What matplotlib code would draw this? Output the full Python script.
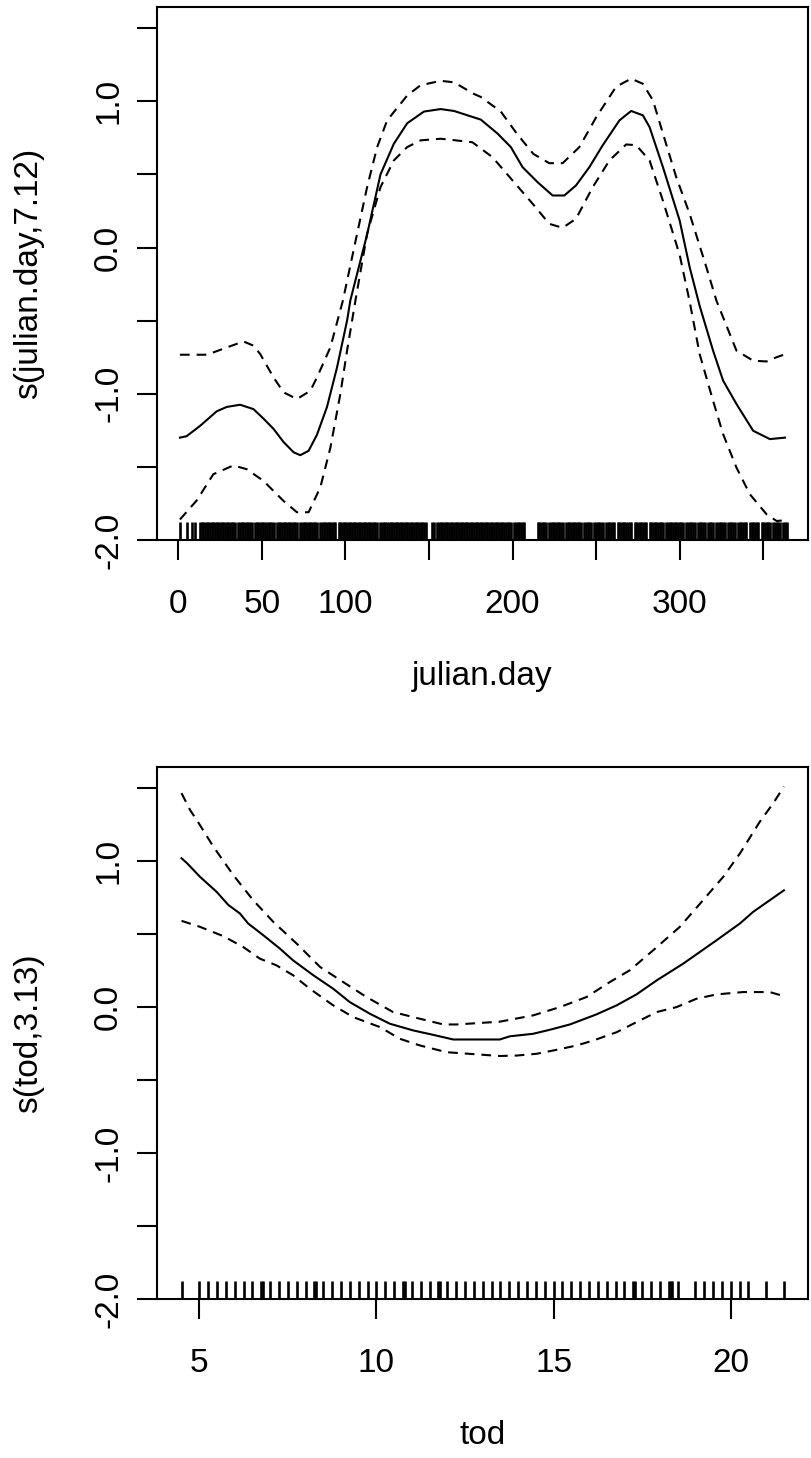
import matplotlib
matplotlib.use("Agg")
import matplotlib.pyplot as plt

plt.rcParams['font.family'] = ['Liberation Sans', 'DejaVu Sans']
plt.rcParams['lines.scale_dashes'] = False

# ---------------- data: julian.day smooth ----------------
jd_fit_x = [1, 5, 13, 23, 29, 37, 45, 51, 57, 63, 69, 73, 78, 83, 89, 95, 101, 103,
            113, 121, 129, 137, 147, 157, 165, 181, 191, 199, 206, 215, 224, 231,
            238, 246, 254, 264, 271, 278, 282, 290, 300, 306, 312, 320, 326, 334,
            344, 354, 363]
jd_fit_y = [-1.30, -1.29, -1.22, -1.12, -1.09, -1.075, -1.105, -1.17, -1.24, -1.33,
            -1.40, -1.42, -1.39, -1.28, -1.09, -0.82, -0.50, -0.36, 0.09, 0.50,
            0.71, 0.85, 0.93, 0.947, 0.934, 0.875, 0.78, 0.687, 0.55, 0.447, 0.356,
            0.356, 0.425, 0.55, 0.70, 0.87, 0.934, 0.904, 0.824, 0.55, 0.185,
            -0.135, -0.40, -0.705, -0.91, -1.07, -1.253, -1.31, -1.30]

jd_upper_x = [1, 17, 21, 39, 45, 49, 57, 63, 71, 79, 83, 91, 98.5, 107, 113, 119, 125,
              137, 145, 157, 165, 177, 181, 193, 202.5, 212.5, 222, 230, 240, 250,
              262, 271, 278, 284, 290, 298, 306, 316, 322, 334, 344, 352, 358, 363]
jd_upper_y = [-0.733, -0.733, -0.717, -0.642, -0.671, -0.728, -0.888, -0.99, -1.036,
              -0.98, -0.888, -0.683, -0.363, 0.094, 0.413, 0.687, 0.87, 1.04, 1.11,
              1.14, 1.13, 1.05, 1.03, 0.93, 0.78, 0.64, 0.577, 0.577, 0.687, 0.89,
              1.10, 1.155, 1.12, 1.007, 0.78, 0.48, 0.23, -0.135, -0.363, -0.705,
              -0.774, -0.779, -0.75, -0.73]

jd_lower_x = [1, 11, 21, 33, 41, 51, 63, 71, 78, 85, 91, 97, 101, 106, 113, 121, 129,
              137, 145, 157, 163, 176, 188, 200, 212, 222, 230, 238, 248, 258, 268,
              274, 282, 290, 300, 306, 312, 320, 326, 334, 342, 352, 358, 363]
jd_lower_y = [-1.86, -1.73, -1.55, -1.49, -1.516, -1.596, -1.733, -1.81, -1.81, -1.64,
              -1.37, -1.0, -0.705, -0.363, 0.094, 0.413, 0.596, 0.687, 0.733, 0.744,
              0.737, 0.72, 0.618, 0.459, 0.30, 0.162, 0.135, 0.197, 0.413, 0.596,
              0.705, 0.70, 0.596, 0.32, -0.05, -0.37, -0.73, -1.048, -1.276, -1.505,
              -1.687, -1.824, -1.87, -1.865]

# days with observations (rug): days 1..364 except these
jd_missing_days = [2, 3, 4, 6, 7, 9, 11, 12, 35, 45, 58, 72, 84, 95, 120, 149, 150,
                   151, 154, 200, 208, 209, 210, 211, 212, 213, 214, 221, 231, 242,
                   248, 255, 262, 272, 281, 291, 303, 310, 316, 321, 328, 334, 341,
                   348, 355, 361]
jd_first_day, jd_last_day = 1, 364

# ---------------- data: tod smooth ----------------
tod_fit_x = [4.5, 4.66, 5.02, 5.49, 5.82, 6.15, 6.38, 6.81, 7.28, 7.65, 8.22, 8.78,
             9.25, 9.82, 10.38, 11.04, 11.6, 12.17, 13.48, 13.77, 14.42, 14.9, 15.46,
             16.21, 16.78, 17.34, 17.91, 18.66, 19.6, 20.26, 20.63, 21.5]
tod_fit_y = [1.02, 0.985, 0.893, 0.79, 0.70, 0.641, 0.573, 0.492, 0.40, 0.32, 0.218,
             0.126, 0.034, -0.046, -0.114, -0.16, -0.19, -0.222, -0.222, -0.20,
             -0.183, -0.155, -0.119, -0.05, 0.012, 0.087, 0.183, 0.298, 0.458, 0.573,
             0.652, 0.80]

tod_upper_x = [4.5, 4.74, 4.93, 5.40, 5.96, 6.52, 7.09, 7.75, 8.41, 9.06, 9.72, 10.47,
               11.23, 11.89, 12.26, 13.48, 14.42, 15.18, 15.93, 16.59, 17.15, 17.81,
               18.56, 19.22, 19.79, 20.26, 20.82, 21.2, 21.5]
tod_upper_y = [1.466, 1.351, 1.282, 1.099, 0.905, 0.733, 0.584, 0.435, 0.275, 0.172,
               0.069, -0.034, -0.08, -0.119, -0.119, -0.10, -0.057, 0.0, 0.069, 0.172,
               0.252, 0.389, 0.549, 0.733, 0.893, 1.053, 1.27, 1.397, 1.511]

tod_lower_x = [4.5, 5.02, 5.68, 6.24, 6.71, 7.18, 7.65, 8.12, 8.78, 9.35, 10.1, 10.66,
               11.23, 11.98, 13.48, 13.96, 14.52, 15.08, 15.65, 16.12, 16.78, 17.34,
               17.91, 18.47, 19.03, 19.6, 20.35, 21.1, 21.5]
tod_lower_y = [0.591, 0.55, 0.486, 0.412, 0.332, 0.286, 0.218, 0.126, 0.012, -0.069,
               -0.137, -0.217, -0.263, -0.309, -0.335, -0.332, -0.32, -0.293, -0.263,
               -0.229, -0.172, -0.103, -0.034, 0.0, 0.057, 0.087, 0.103, 0.103, 0.075]

tod_rug = [4.5, 5.0, 5.25, 5.5, 5.75, 6.0, 6.25, 6.5, 6.75, 6.8, 7.0, 7.25, 7.5, 7.75,
           8.0, 8.25, 8.3, 8.5, 8.75, 9.0, 9.25, 9.5, 9.75, 10.0, 10.25, 10.5, 10.75,
           10.8, 11.0, 11.25, 11.5, 11.75, 11.8, 12.0, 12.25, 12.5, 12.75, 13.0, 13.25,
           13.5, 13.75, 14.0, 14.25, 14.5, 14.75, 15.0, 15.25, 15.5, 15.75, 16.0,
           16.25, 16.5, 16.75, 17.0, 17.25, 17.3, 17.5, 17.75, 18.0, 18.25, 18.3,
           18.35, 18.5, 19.0, 19.25, 19.5, 19.75, 20.0, 20.25, 20.5, 21.0, 21.5]

# ---------------- axis labels / ticks ----------------
y_ticks = [-2.0, -1.5, -1.0, -0.5, 0.0, 0.5, 1.0, 1.5]
y_ticklabels = ["-2.0", "", "-1.0", "", "0.0", "", "1.0", ""]
jd_xticks = [0, 50, 100, 150, 200, 250, 300, 350]
jd_xticklabels = ["0", "50", "100", "", "200", "", "300", ""]
tod_xticks = [5, 10, 15, 20]
tod_xticklabels = ["5", "10", "15", "20"]

panels = [
    dict(fit=(jd_fit_x, jd_fit_y), up=(jd_upper_x, jd_upper_y), lo=(jd_lower_x, jd_lower_y),
         rug=[d for d in range(jd_first_day, jd_last_day + 1) if d not in jd_missing_days],
         xlim=(-12.9, 376.8), xticks=jd_xticks, xticklabels=jd_xticklabels,
         xlabel="julian.day", ylabel="s(julian.day,7.12)"),
    dict(fit=(tod_fit_x, tod_fit_y), up=(tod_upper_x, tod_upper_y), lo=(tod_lower_x, tod_lower_y),
         rug=tod_rug, xlim=(3.80, 22.18), xticks=tod_xticks, xticklabels=tod_xticklabels,
         xlabel="tod", ylabel="s(tod,3.13)"),
]

W, H = 812, 1458
fig = plt.figure(figsize=(W / 100, H / 100), dpi=100)
left_px, right_px = 156.7, 808.0
boxes = [(7.0, 540.0), (767.0, 1299.0)]

FS = 24
LW = 1.5
for p, (top_px, bot_px) in zip(panels, boxes):
    ax = fig.add_axes([left_px / W, 1 - bot_px / H, (right_px - left_px) / W,
                       (bot_px - top_px) / H])
    ax.plot(*p['fit'], color='black', lw=LW, solid_joinstyle='round')
    ax.plot(*p['up'], color='black', lw=LW, linestyle=(0, (7, 5)))
    ax.plot(*p['lo'], color='black', lw=LW, linestyle=(0, (7, 5)))
    ax.vlines(p['rug'], 0, 0.034, transform=ax.get_xaxis_transform(),
              color='black', lw=1.9)
    ax.set_xlim(*p['xlim'])
    ax.set_ylim(-2.0, 1.645)
    ax.set_xticks(p['xticks'])
    ax.set_xticklabels(p['xticklabels'])
    ax.set_yticks(y_ticks)
    ax.set_yticklabels(y_ticklabels)
    for s in ax.spines.values():
        s.set_linewidth(LW)
    ax.tick_params(direction='out', length=14.4, width=LW, labelsize=FS)
    ax.tick_params(axis='x', pad=21)
    ax.tick_params(axis='y', pad=9, labelrotation=90)
    for lab in ax.get_yticklabels():
        lab.set_va('center')
    ax_h = bot_px - top_px
    ax_w = right_px - left_px
    ax.set_xlabel(p['xlabel'], fontsize=FS)
    ax.xaxis.label.set_va('baseline')
    ax.xaxis.set_label_coords(0.5, -145 / ax_h)
    ax.set_ylabel(p['ylabel'], fontsize=FS)
    ax.yaxis.label.set_va('baseline')
    ax.yaxis.set_label_coords((36.7 - left_px) / ax_w, 0.5)

fig.savefig("out.png", dpi=100)
